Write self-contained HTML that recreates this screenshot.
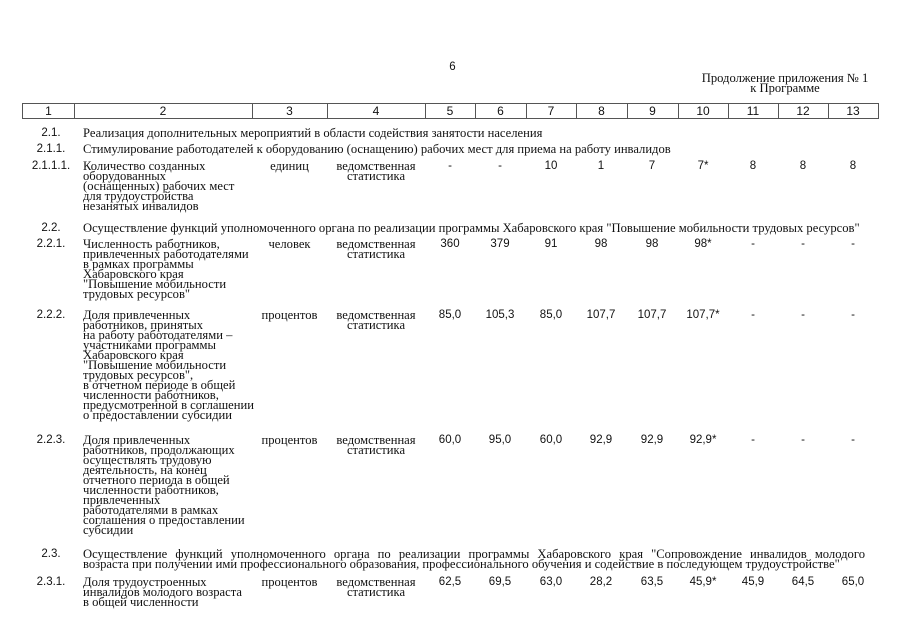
<!DOCTYPE html>
<html><head><meta charset="utf-8">
<style>
body{margin:0;width:905px;height:640px;background:#fff;position:relative;overflow:hidden;color:#111}
.s{position:absolute;font-family:"Liberation Serif","DejaVu Serif",serif;font-size:12.6px;line-height:10px;white-space:nowrap}
.n{position:absolute;font-family:"Liberation Sans","DejaVu Sans",sans-serif;font-size:11.5px;line-height:10px;white-space:nowrap;text-align:center}
.c1{left:22px;width:58px;text-align:center}
.c2{left:83px}
.c3{left:252px;width:75px;text-align:center}
.c4{left:327px;width:98px;text-align:center}
.hd{position:absolute;top:103px;height:16px;border:1px solid #555;border-left:none;box-sizing:border-box;font-family:"Liberation Sans",sans-serif;font-size:12px;line-height:14px;text-align:center}
#w{position:absolute;left:0;top:2px;width:905px;height:640px}
</style></head><body>
<div class="n" style="left:440px;width:25px;top:62px">6</div>
<div class="s" style="left:685px;width:200px;text-align:center;top:73px">Продолжение приложения № 1<br>к Программе</div>

<div class="hd" style="left:22px;width:53px;border-left:1px solid #555">1</div>
<div class="hd" style="left:74px;width:179px">2</div>
<div class="hd" style="left:252px;width:76px">3</div>
<div class="hd" style="left:327px;width:99px">4</div>
<div class="hd" style="left:425px;width:51px">5</div>
<div class="hd" style="left:475px;width:52px">6</div>
<div class="hd" style="left:526px;width:51px">7</div>
<div class="hd" style="left:576px;width:52px">8</div>
<div class="hd" style="left:627px;width:52px">9</div>
<div class="hd" style="left:678px;width:51px">10</div>
<div class="hd" style="left:728px;width:51px">11</div>
<div class="hd" style="left:778px;width:51px">12</div>
<div class="hd" style="left:828px;width:51px">13</div>

<div id="w">
<div class="n c1" style="top:126px">2.1.</div>
<div class="s c2" style="top:126px">Реализация дополнительных мероприятий в области содействия занятости населения</div>
<div class="n c1" style="top:142px">2.1.1.</div>
<div class="s c2" style="top:142px">Стимулирование работодателей к оборудованию (оснащению) рабочих мест для приема на работу инвалидов</div>

<div class="n c1" style="top:159px">2.1.1.1.</div>
<div class="s c2" style="top:159px">Количество созданных<br>оборудованных<br>(оснащенных) рабочих мест<br>для трудоустройства<br>незанятых инвалидов</div>
<div class="s c3" style="top:159px">единиц</div>
<div class="s c4" style="top:159px">ведомственная<br>статистика</div>
<div class="n" style="left:425px;width:50px;top:159px">-</div>
<div class="n" style="left:475px;width:50px;top:159px">-</div>
<div class="n" style="left:526px;width:50px;top:159px">10</div>
<div class="n" style="left:576px;width:50px;top:159px">1</div>
<div class="n" style="left:627px;width:50px;top:159px">7</div>
<div class="n" style="left:678px;width:50px;top:159px">7*</div>
<div class="n" style="left:728px;width:50px;top:159px">8</div>
<div class="n" style="left:778px;width:50px;top:159px">8</div>
<div class="n" style="left:828px;width:50px;top:159px">8</div>

<div class="n c1" style="top:221px">2.2.</div>
<div class="s c2" style="top:221px">Осуществление функций уполномоченного органа по реализации программы Хабаровского края "Повышение мобильности трудовых ресурсов"</div>

<div class="n c1" style="top:237px">2.2.1.</div>
<div class="s c2" style="top:237px">Численность работников,<br>привлеченных работодателями<br>в рамках программы<br>Хабаровского края<br>"Повышение мобильности<br>трудовых ресурсов"</div>
<div class="s c3" style="top:237px">человек</div>
<div class="s c4" style="top:237px">ведомственная<br>статистика</div>
<div class="n" style="left:425px;width:50px;top:237px">360</div>
<div class="n" style="left:475px;width:50px;top:237px">379</div>
<div class="n" style="left:526px;width:50px;top:237px">91</div>
<div class="n" style="left:576px;width:50px;top:237px">98</div>
<div class="n" style="left:627px;width:50px;top:237px">98</div>
<div class="n" style="left:678px;width:50px;top:237px">98*</div>
<div class="n" style="left:728px;width:50px;top:237px">-</div>
<div class="n" style="left:778px;width:50px;top:237px">-</div>
<div class="n" style="left:828px;width:50px;top:237px">-</div>

<div class="n c1" style="top:308px">2.2.2.</div>
<div class="s c2" style="top:308px">Доля привлеченных<br>работников, принятых<br>на работу работодателями –<br>участниками программы<br>Хабаровского края<br>"Повышение мобильности<br>трудовых ресурсов",<br>в отчетном периоде в общей<br>численности работников,<br>предусмотренной в соглашении<br>о предоставлении субсидии</div>
<div class="s c3" style="top:308px">процентов</div>
<div class="s c4" style="top:308px">ведомственная<br>статистика</div>
<div class="n" style="left:425px;width:50px;top:308px">85,0</div>
<div class="n" style="left:475px;width:50px;top:308px">105,3</div>
<div class="n" style="left:526px;width:50px;top:308px">85,0</div>
<div class="n" style="left:576px;width:50px;top:308px">107,7</div>
<div class="n" style="left:627px;width:50px;top:308px">107,7</div>
<div class="n" style="left:678px;width:50px;top:308px">107,7*</div>
<div class="n" style="left:728px;width:50px;top:308px">-</div>
<div class="n" style="left:778px;width:50px;top:308px">-</div>
<div class="n" style="left:828px;width:50px;top:308px">-</div>

<div class="n c1" style="top:433px">2.2.3.</div>
<div class="s c2" style="top:433px">Доля привлеченных<br>работников, продолжающих<br>осуществлять трудовую<br>деятельность, на конец<br>отчетного периода в общей<br>численности работников,<br>привлеченных<br>работодателями в рамках<br>соглашения о предоставлении<br>субсидии</div>
<div class="s c3" style="top:433px">процентов</div>
<div class="s c4" style="top:433px">ведомственная<br>статистика</div>
<div class="n" style="left:425px;width:50px;top:433px">60,0</div>
<div class="n" style="left:475px;width:50px;top:433px">95,0</div>
<div class="n" style="left:526px;width:50px;top:433px">60,0</div>
<div class="n" style="left:576px;width:50px;top:433px">92,9</div>
<div class="n" style="left:627px;width:50px;top:433px">92,9</div>
<div class="n" style="left:678px;width:50px;top:433px">92,9*</div>
<div class="n" style="left:728px;width:50px;top:433px">-</div>
<div class="n" style="left:778px;width:50px;top:433px">-</div>
<div class="n" style="left:828px;width:50px;top:433px">-</div>

<div class="n c1" style="top:547px">2.3.</div>
<div class="s c2" style="top:547px;width:782px;white-space:normal;text-align:justify;text-align-last:justify">Осуществление функций уполномоченного органа по реализации программы Хабаровского края "Сопровождение инвалидов молодого</div>
<div class="s c2" style="top:557px;width:782px">возраста при получении ими профессионального образования, профессионального обучения и содействие в последующем трудоустройстве"</div>

<div class="n c1" style="top:575px">2.3.1.</div>
<div class="s c2" style="top:575px">Доля трудоустроенных<br>инвалидов молодого возраста<br>в общей численности</div>
<div class="s c3" style="top:575px">процентов</div>
<div class="s c4" style="top:575px">ведомственная<br>статистика</div>
<div class="n" style="left:425px;width:50px;top:575px">62,5</div>
<div class="n" style="left:475px;width:50px;top:575px">69,5</div>
<div class="n" style="left:526px;width:50px;top:575px">63,0</div>
<div class="n" style="left:576px;width:50px;top:575px">28,2</div>
<div class="n" style="left:627px;width:50px;top:575px">63,5</div>
<div class="n" style="left:678px;width:50px;top:575px">45,9*</div>
<div class="n" style="left:728px;width:50px;top:575px">45,9</div>
<div class="n" style="left:778px;width:50px;top:575px">64,5</div>
<div class="n" style="left:828px;width:50px;top:575px">65,0</div>
</div>
</body></html>
